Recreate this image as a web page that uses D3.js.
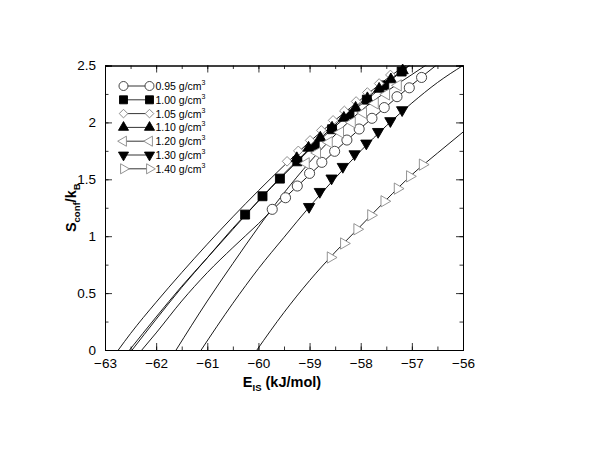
<!DOCTYPE html>
<html>
<head>
<meta charset="utf-8">
<script src="https://cdn.jsdelivr.net/npm/d3@7/dist/d3.min.js"></script>
<style>
  body { margin: 0; background: #fff; }
  text { font-family: "Liberation Sans", Arial, Helvetica, sans-serif; }
</style>
</head>
<body>
<svg id="chart"></svg>
<script>
// tick values
const xTicks = [-63, -62, -61, -60, -59, -58, -57, -56];
const yTicks = [0, 0.5, 1, 1.5, 2, 2.5];
const densities = ["0.95", "1.00", "1.05", "1.10", "1.20", "1.30", "1.40"];

// 0.95 g/cm3 (open circles)
const e095 = [-59.73, -59.47, -59.24, -59.00, -58.76, -58.51, -58.27, -58.03, -57.78, -57.54, -57.29, -57.05, -56.81];
const s095 = [1.236, 1.338, 1.441, 1.552, 1.649, 1.746, 1.845, 1.942, 2.036, 2.130, 2.226, 2.304, 2.395];
const fitE095 = [-62.28, -62, -61.5, -61, -60.5, -60, -59.5, -59, -58.5, -58, -57.5, -57, -56.5];
const fitS095 = [0, 0.15, 0.43, 0.68, 0.90, 1.11, 1.33, 1.54, 1.75, 1.95, 2.14, 2.33, 2.51];

// 1.00 g/cm3 (filled squares)
const e100 = [-60.26, -59.92, -59.58, -59.24, -58.90, -58.56, -58.22, -57.88, -57.54, -57.20];
const s100 = [1.19, 1.351, 1.506, 1.658, 1.80, 1.94, 2.07, 2.20, 2.325, 2.447];
const fitE100 = [-62.52, -62, -61.5, -61, -60.5, -60, -59.5, -59, -58.5, -58, -57.5, -57];
const fitS100 = [0, 0.29, 0.56, 0.81, 1.06, 1.31, 1.54, 1.76, 1.965, 2.155, 2.34, 2.515];

// 1.05 g/cm3 (open diamonds)
const e105 = [-59.44, -59.22, -58.99, -58.77, -58.54, -58.32, -58.09, -57.87, -57.64, -57.42];
const s105 = [1.658, 1.750, 1.842, 1.930, 2.018, 2.101, 2.184, 2.263, 2.342, 2.417];
const fitE105 = [-62.74, -62.5, -62, -61.5, -61, -60.5, -60, -59.5, -59, -58.5, -58, -57.5, -57];
const fitS105 = [0, 0.145, 0.42, 0.68, 0.93, 1.17, 1.40, 1.62, 1.83, 2.02, 2.20, 2.38, 2.54];

// 1.10 g/cm3 (filled up triangles)
const e110 = [-59.25, -59.02, -58.79, -58.56, -58.33, -58.10, -57.87, -57.64, -57.41, -57.18];
const s110 = [1.684, 1.776, 1.864, 1.952, 2.039, 2.127, 2.211, 2.294, 2.377, 2.456];
const fitE110 = [-62.47, -62, -61.5, -61, -60.5, -60, -59.5, -59, -58.5, -58, -57.5, -57];
const fitS110 = [0, 0.27, 0.55, 0.81, 1.07, 1.31, 1.55, 1.77, 1.98, 2.17, 2.35, 2.52];

// 1.20 g/cm3 (open left triangles)
const e120 = [-59.07, -58.85, -58.62, -58.40, -58.17, -57.95, -57.72, -57.50, -57.27];
const s120 = [1.640, 1.732, 1.825, 1.912, 2.0, 2.083, 2.167, 2.246, 2.325];
const fitE120 = [-61.61, -61, -60.5, -60, -59.5, -59, -58.5, -58, -57.5, -57, -56.7];
const fitS120 = [0, 0.43, 0.76, 1.08, 1.38, 1.65, 1.89, 2.10, 2.27, 2.42, 2.51];

// 1.30 g/cm3 (filled down triangles)
const e130 = [-59.01, -58.80, -58.57, -58.35, -58.12, -57.89, -57.66, -57.42, -57.19];
const s130 = [1.259, 1.391, 1.509, 1.611, 1.722, 1.816, 1.918, 2.013, 2.109];
const fitE130 = [-61.12, -60.5, -60, -59.5, -59, -58.5, -58, -57.5, -57, -56.5, -56];
const fitS130 = [0, 0.41, 0.715, 0.99, 1.26, 1.51, 1.75, 1.97, 2.17, 2.35, 2.50];

// 1.40 g/cm3 (open right triangles)
const e140 = [-58.59, -58.33, -58.07, -57.80, -57.54, -57.28, -57.04, -56.79];
const s140 = [0.813, 0.936, 1.061, 1.184, 1.307, 1.418, 1.526, 1.629];
const fitE140 = [-60.03, -59.5, -59, -58.5, -58, -57.5, -57, -56.5, -56];
const fitS140 = [0, 0.33, 0.61, 0.86, 1.09, 1.32, 1.54, 1.73, 1.915];

const width = 600, height = 464;
const margin = {top: 65.5, left: 105, right: 137, bottom: 114};
const iwidth = width - margin.left - margin.right;
const iheight = height - margin.top - margin.bottom;

const zip = (a, b) => a.map((v, i) => [v, b[i]]);

// marker styles per series
const styles = [
  {sym: d3.symbolCircle, size: 80, rot: 0, fill: "#fff", stroke: "#333"},
  {sym: d3.symbolSquare, size: 80, rot: 0, fill: "#000", stroke: "#000"},
  {sym: d3.symbolSquare, size: 46, rot: 45, fill: "#fff", stroke: "#888"},
  {sym: d3.symbolTriangle, size: 55, rot: 0, fill: "#000", stroke: "#000"},
  {sym: d3.symbolTriangle, size: 55, rot: -90, fill: "#fff", stroke: "#888"},
  {sym: d3.symbolTriangle, size: 55, rot: 180, fill: "#000", stroke: "#000"},
  {sym: d3.symbolTriangle, size: 55, rot: 90, fill: "#fff", stroke: "#888"}
];

const series = [
  {pts: zip(e095, s095), fit: zip(fitE095, fitS095)},
  {pts: zip(e100, s100), fit: zip(fitE100, fitS100)},
  {pts: zip(e105, s105), fit: zip(fitE105, fitS105)},
  {pts: zip(e110, s110), fit: zip(fitE110, fitS110)},
  {pts: zip(e120, s120), fit: zip(fitE120, fitS120)},
  {pts: zip(e130, s130), fit: zip(fitE130, fitS130)},
  {pts: zip(e140, s140), fit: zip(fitE140, fitS140)}
].map((d, i) => Object.assign(d, styles[i], {label: densities[i]}));

const svg = d3.select("#chart").attr("width", width).attr("height", height);

const x = d3.scaleLinear().domain([-63, -56]).range([0, iwidth]);
const y = d3.scaleLinear().domain([0, 2.5]).range([iheight, 0]);

const g = svg.append("g").attr("transform", `translate(${margin.left},${margin.top})`);

g.append("clipPath").attr("id", "plotclip")
  .append("rect").attr("width", iwidth).attr("height", iheight);

// fit curves
const line = d3.line().x(d => x(d[0])).y(d => y(d[1])).curve(d3.curveMonotoneX);
g.append("g").attr("clip-path", "url(#plotclip)")
  .selectAll("path.fit").data(series).enter().append("path")
  .attr("class", "fit")
  .attr("d", d => line(d.fit))
  .attr("fill", "none")
  .attr("stroke", "#000")
  .attr("stroke-width", 0.9);

// markers
const symPath = (d, scale = 1) => d3.symbol().type(d.sym).size(d.size * scale)();
series.forEach(s => {
  g.append("g").selectAll("path").data(s.pts).enter().append("path")
    .attr("d", symPath(s))
    .attr("transform", p => `translate(${x(p[0])},${y(p[1])}) rotate(${s.rot})`)
    .attr("fill", s.fill)
    .attr("stroke", s.stroke)
    .attr("stroke-width", 0.9);
});

// axes: ticks inside on all four sides
const minorX = d3.range(-63, -55.9, 0.5);
const minorY = d3.range(0, 2.51, 0.25);
const fmt = d => d3.format("")(d).replace("-", "\u2212");

g.append("g").attr("transform", `translate(0,${iheight})`)
  .call(d3.axisBottom(x).tickValues(xTicks).tickSize(-7).tickPadding(8).tickFormat(fmt));
g.append("g").attr("transform", `translate(0,${iheight})`)
  .call(d3.axisBottom(x).tickValues(minorX).tickSize(-3.5).tickFormat(""));
g.append("g").call(d3.axisTop(x).tickValues(xTicks).tickSize(-7).tickFormat(""));
g.append("g").call(d3.axisTop(x).tickValues(minorX).tickSize(-3.5).tickFormat(""));

g.append("g")
  .call(d3.axisLeft(y).tickValues(yTicks).tickSize(-7).tickPadding(9).tickFormat(d3.format("")));
g.append("g").call(d3.axisLeft(y).tickValues(minorY).tickSize(-3.5).tickFormat(""));
g.append("g").attr("transform", `translate(${iwidth},0)`)
  .call(d3.axisRight(y).tickValues(yTicks).tickSize(-7).tickFormat(""));
g.append("g").attr("transform", `translate(${iwidth},0)`)
  .call(d3.axisRight(y).tickValues(minorY).tickSize(-3.5).tickFormat(""));

g.selectAll(".domain").attr("stroke", "#000").attr("stroke-width", 1);
g.selectAll(".tick line").attr("stroke", "#000").attr("stroke-width", 0.8);
g.selectAll(".tick text").attr("font-size", 13.5).attr("fill", "#000")
  .attr("font-family", "Liberation Sans, Arial, sans-serif");

// axis titles
const xt = svg.append("text")
  .attr("x", margin.left + iwidth / 2 - 2).attr("y", 387)
  .attr("text-anchor", "middle").attr("font-size", 14.5).attr("font-weight", "bold");
xt.append("tspan").text("E");
xt.append("tspan").attr("font-size", 9.5).attr("dy", 4).text("IS");
xt.append("tspan").attr("dy", -4).text(" (kJ/mol)");

const yt = svg.append("text")
  .attr("transform", `translate(76,${margin.top + iheight / 2}) rotate(-90)`)
  .attr("text-anchor", "middle").attr("font-size", 14.5).attr("font-weight", "bold");
yt.append("tspan").text("S");
yt.append("tspan").attr("font-size", 9.5).attr("dy", 4).text("conf");
yt.append("tspan").attr("dy", -4).text("/k");
yt.append("tspan").attr("font-size", 9.5).attr("dy", 4).text("B");

// legend
const legend = svg.append("g").attr("transform", "translate(123.5,86)");
const rows = legend.selectAll("g").data(series).enter().append("g")
  .attr("transform", (d, i) => `translate(0,${i * 13.8})`);
rows.append("line").attr("x1", 0).attr("x2", 26).attr("stroke", "#000").attr("stroke-width", 0.8);
[0, 26].forEach(cx => {
  rows.append("path")
    .attr("d", d => symPath(d, 0.8))
    .attr("transform", d => `translate(${cx},0) rotate(${d.rot})`)
    .attr("fill", d => d.fill)
    .attr("stroke", d => d.stroke)
    .attr("stroke-width", 0.9);
});
const lt = rows.append("text").attr("x", 32).attr("y", 4).attr("font-size", 10.5);
lt.append("tspan").text(d => d.label + " g/cm");
lt.append("tspan").attr("font-size", 7).attr("dy", -5).text("3");
</script>
</body>
</html>
